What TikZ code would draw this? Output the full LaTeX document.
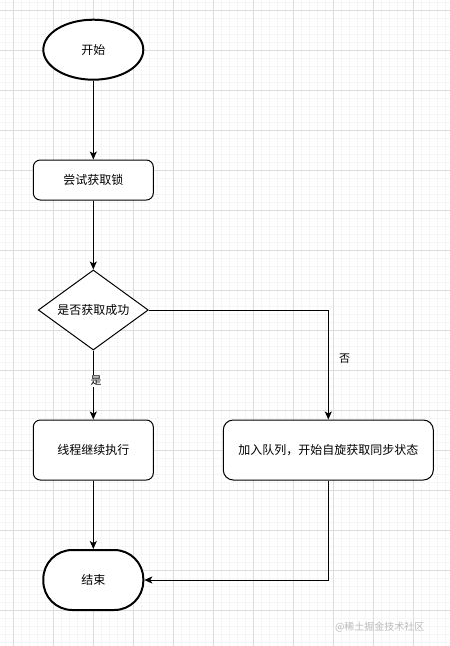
\documentclass[tikz,border=0pt]{standalone}
\usepackage{fontspec}
\setmainfont{Noto Sans CJK SC}
\usetikzlibrary{shapes.geometric,arrows.meta}
\definecolor{gridmajor}{HTML}{DDDDDD}
\definecolor{gridminor}{HTML}{F5F5F5}
\definecolor{wm}{HTML}{BBBBBB}
\tikzset{
  base/.style={draw=black, fill=white, inner sep=0pt, font=\fontsize{12}{14}\selectfont, text=black},
  terminal/.style={base, line width=2pt},
  procbox/.style={base, line width=1pt, rounded corners=7pt},
  decision/.style={base, line width=1pt, diamond, aspect=1.375, minimum width=110pt, minimum height=80pt},
  conn/.style={line width=1pt, -{Stealth[length=8pt,width=7pt,inset=2pt]}},
  elabel/.style={fill=white, inner sep=1pt, font=\fontsize{11}{13}\selectfont}
}
\begin{document}
\begin{tikzpicture}[x=1pt,y=-1pt]
\useasboundingbox (0,0) rectangle (450,646);
\fill[white] (0,0) rectangle (450,646);
% minor grid
\foreach \i in {0,...,57} {\draw[gridminor, line width=0.6pt] ({-2.67+8*\i},0) -- ({-2.67+8*\i},646);}
\foreach \i in {0,...,81} {\draw[gridminor, line width=0.6pt] (0,{2+8*\i}) -- (450,{2+8*\i});}
% major grid
\foreach \i in {0,...,11} {\draw[gridmajor, line width=1pt] ({13.33+40*\i},0) -- ({13.33+40*\i},646);}
\foreach \i in {0,...,16} {\draw[gridmajor, line width=1pt] (0,{10+40*\i}) -- (450,{10+40*\i});}

\node[terminal, ellipse, minimum width=100pt, minimum height=60pt] (start) at (93.3,49.7) {开始};
\node[procbox, minimum width=120pt, minimum height=40pt] (try) at (93.3,180) {尝试获取锁};
\node[decision] (dec) at (93.3,310) {是否获取成功};
\node[procbox, minimum width=120pt, minimum height=60pt] (cont) at (93.3,450) {线程继续执行};
\node[procbox, rounded corners=10pt, minimum width=210pt, minimum height=60pt] (queue) at (328.3,450) {加入队列，开始自旋获取同步状态};
\node[terminal, rounded corners=29pt, minimum width=100pt, minimum height=60pt] (end) at (93.3,580) {结束};

\coordinate (c1) at (328.3,310);
\coordinate (c2) at (328.3,580);

\draw[conn] (start) -- (try);
\draw[conn] (try) -- (dec);
\draw[conn] (dec) -- (cont);
\node[elabel] (yes) at (96,381) {是};
\draw[conn] (dec.east) -- (c1) -- (queue.north);
\node[font=\fontsize{11}{13}\selectfont] (no) at (344.5,359) {否};
\draw[conn] (cont) -- (end);
\draw[conn] (queue.south) -- (c2) -- (end.east);

\node[text=wm, font=\fontsize{10}{12}\selectfont, anchor=east] (wmk) at (428,627) {@稀土掘金技术社区};
\end{tikzpicture}
\end{document}
